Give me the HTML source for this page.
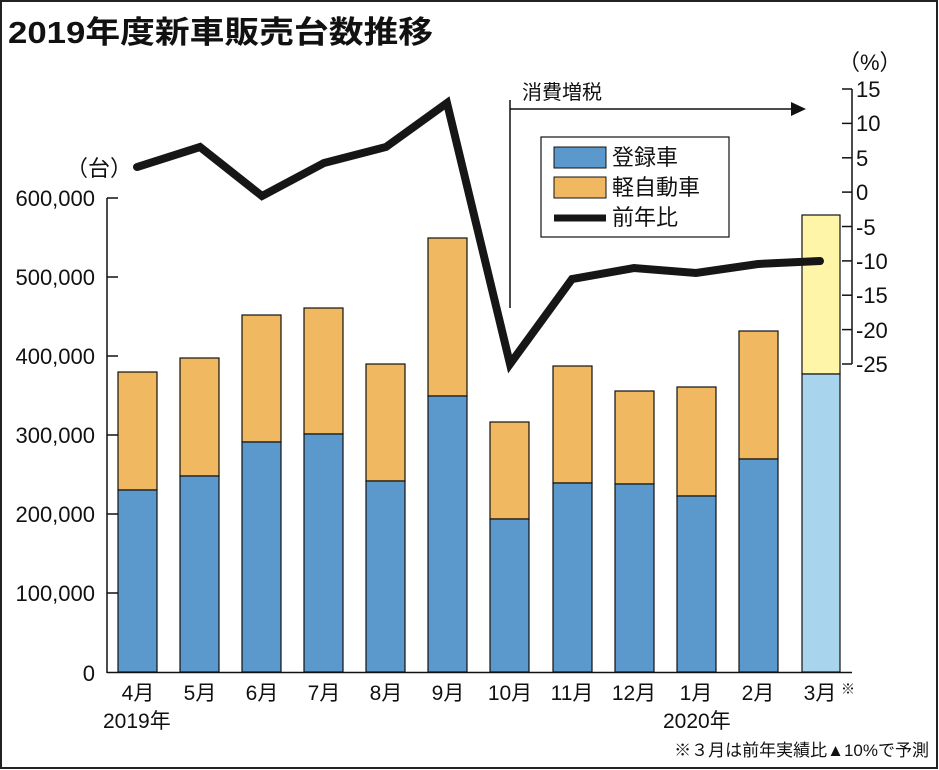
<!DOCTYPE html>
<html><head><meta charset="utf-8"><style>
body{margin:0;background:#fff}
svg{display:block}
text{font-family:"Liberation Sans","Noto Sans CJK JP",sans-serif;fill:#111}
</style></head><body>
<svg width="939" height="770" viewBox="0 0 939 770" xmlns="http://www.w3.org/2000/svg">
<rect x="1" y="1" width="936" height="767" fill="#fff" stroke="#222" stroke-width="2"/>
<text x="8" y="43" font-size="31" font-weight="bold" textLength="425" lengthAdjust="spacingAndGlyphs">2019年度新車販売台数推移</text>
<!-- left axis -->
<g stroke="#111" stroke-width="1.5">
<line x1="107" y1="198" x2="107" y2="673"/>
<line x1="107" y1="672.5" x2="852" y2="672.5"/>
<line x1="107" y1="198" x2="118" y2="198"/>
<line x1="107" y1="277" x2="118" y2="277"/>
<line x1="107" y1="356" x2="118" y2="356"/>
<line x1="107" y1="435" x2="118" y2="435"/>
<line x1="107" y1="514" x2="118" y2="514"/>
<line x1="107" y1="593" x2="118" y2="593"/>
<line x1="852" y1="89" x2="852" y2="364"/>
<line x1="842" y1="89" x2="852" y2="89"/>
<line x1="842" y1="123.4" x2="852" y2="123.4"/>
<line x1="842" y1="157.8" x2="852" y2="157.8"/>
<line x1="842" y1="192.1" x2="852" y2="192.1"/>
<line x1="842" y1="226.5" x2="852" y2="226.5"/>
<line x1="842" y1="260.9" x2="852" y2="260.9"/>
<line x1="842" y1="295.2" x2="852" y2="295.2"/>
<line x1="842" y1="329.6" x2="852" y2="329.6"/>
<line x1="842" y1="364" x2="852" y2="364"/>
</g>
<g font-size="22" text-anchor="end">
<text x="95" y="206">600,000</text>
<text x="95" y="285">500,000</text>
<text x="95" y="364">400,000</text>
<text x="95" y="443">300,000</text>
<text x="95" y="522">200,000</text>
<text x="95" y="601">100,000</text>
<text x="95" y="681">0</text>
</g>
<text x="66" y="176" font-size="22">（台）</text>
<g font-size="22">
<text x="856" y="97">15</text><text x="856" y="131">10</text><text x="856" y="166">5</text>
<text x="856" y="200">0</text><text x="856" y="235">-5</text><text x="856" y="269">-10</text>
<text x="856" y="303">-15</text><text x="856" y="338">-20</text><text x="856" y="372">-25</text>
<text x="838" y="70">（%）</text>
</g>
<!-- bars -->
<g stroke="#111" stroke-width="1.2">
<rect x="118" y="372" width="39" height="118" fill="#f0b860"/><rect x="118" y="490" width="39" height="182" fill="#5b98cb"/>
<rect x="180" y="358" width="39" height="118" fill="#f0b860"/><rect x="180" y="476" width="39" height="196" fill="#5b98cb"/>
<rect x="242" y="315" width="39" height="127" fill="#f0b860"/><rect x="242" y="442" width="39" height="230" fill="#5b98cb"/>
<rect x="304" y="308" width="39" height="126" fill="#f0b860"/><rect x="304" y="434" width="39" height="238" fill="#5b98cb"/>
<rect x="366" y="364" width="39" height="117" fill="#f0b860"/><rect x="366" y="481" width="39" height="191" fill="#5b98cb"/>
<rect x="428" y="238" width="39" height="158" fill="#f0b860"/><rect x="428" y="396" width="39" height="276" fill="#5b98cb"/>
<rect x="490" y="422" width="39" height="97" fill="#f0b860"/><rect x="490" y="519" width="39" height="153" fill="#5b98cb"/>
<rect x="553" y="366" width="39" height="117" fill="#f0b860"/><rect x="553" y="483" width="39" height="189" fill="#5b98cb"/>
<rect x="615" y="391" width="39" height="93" fill="#f0b860"/><rect x="615" y="484" width="39" height="188" fill="#5b98cb"/>
<rect x="677" y="387" width="39" height="109" fill="#f0b860"/><rect x="677" y="496" width="39" height="176" fill="#5b98cb"/>
<rect x="739" y="331" width="39" height="128" fill="#f0b860"/><rect x="739" y="459" width="39" height="213" fill="#5b98cb"/>
<rect x="802" y="215" width="38" height="159" fill="#fff5a8"/><rect x="802" y="374" width="38" height="298" fill="#a8d4ee"/>
</g>
<!-- tax annotation -->
<line x1="510" y1="100" x2="510" y2="308" stroke="#111" stroke-width="1.5"/>
<line x1="510" y1="109" x2="795" y2="109" stroke="#111" stroke-width="1.5"/>
<polygon points="806,109 791,102 791,116" fill="#111"/>
<text x="522" y="99" font-size="20">消費増税</text>
<!-- line -->
<polyline points="137,167 200,147 262,196 324,163 386,147 447,103 510,364 572,279 634,268 696,273 758,264 820,261" fill="none" stroke="#161616" stroke-width="8" stroke-linejoin="miter" stroke-linecap="round"/>
<!-- legend -->
<rect x="541" y="137" width="188" height="100" fill="#fff" stroke="#111" stroke-width="1.2"/>
<rect x="554" y="147" width="52" height="21" fill="#5b98cb" stroke="#111" stroke-width="1"/>
<rect x="554" y="177" width="52" height="21" fill="#f0b860" stroke="#111" stroke-width="1"/>
<line x1="554" y1="218" x2="606" y2="218" stroke="#161616" stroke-width="7"/>
<g font-size="22"><text x="612" y="165">登録車</text><text x="612" y="195">軽自動車</text><text x="612" y="225">前年比</text></g>
<!-- x labels -->
<g font-size="21" text-anchor="middle">
<text x="138" y="700">4月</text><text x="200" y="700">5月</text><text x="262" y="700">6月</text>
<text x="324" y="700">7月</text><text x="386" y="700">8月</text><text x="448" y="700">9月</text>
<text x="510" y="700">10月</text><text x="572" y="700">11月</text><text x="634" y="700">12月</text>
<text x="696" y="700">1月</text><text x="758" y="700">2月</text><text x="820" y="700">3月</text>
</g>
<text x="841" y="694" font-size="14">※</text>
<text x="103" y="728" font-size="21">2019年</text>
<text x="663" y="728" font-size="21">2020年</text>
<text x="929" y="756" font-size="17" text-anchor="end">※３月は前年実績比▲10%で予測</text>
</svg>
</body></html>
